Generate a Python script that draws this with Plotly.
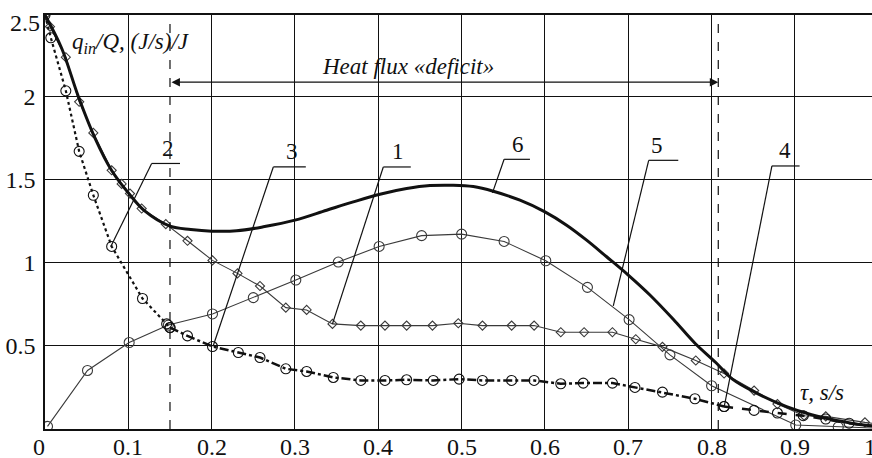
import plotly.graph_objects as go

# ---------------- data ----------------
c1_x = [0.0, 0.006, 0.025, 0.041, 0.058, 0.080, 0.092, 0.102, 0.116, 0.145, 0.171, 0.201, 0.231, 0.258,
        0.289, 0.314, 0.345, 0.379, 0.408, 0.434, 0.465, 0.496, 0.525, 0.560, 0.587, 0.619, 0.647, 0.681,
        0.709, 0.741, 0.781, 0.815, 0.851, 0.879, 0.911, 0.937, 0.984, 1.0]
c1_y = [2.49, 2.42, 2.236, 1.968, 1.781, 1.556, 1.474, 1.416, 1.326, 1.232, 1.132, 1.014, 0.936, 0.860,
        0.730, 0.716, 0.632, 0.622, 0.622, 0.622, 0.622, 0.636, 0.622, 0.622, 0.622, 0.582, 0.582, 0.582,
        0.540, 0.494, 0.412, 0.334, 0.231, 0.150, 0.080, 0.076, 0.040, 0.030]

c2_x = [0.0, 0.007, 0.025, 0.041, 0.058, 0.080, 0.117, 0.146, 0.150]
c2_y = [2.49, 2.353, 2.034, 1.670, 1.406, 1.098, 0.785, 0.632, 0.610]

c3_x = [0.150, 0.171, 0.201, 0.232, 0.258, 0.289, 0.314, 0.346, 0.379, 0.408, 0.434, 0.466, 0.497,
        0.525, 0.560, 0.587, 0.619, 0.646, 0.681, 0.708, 0.741, 0.780, 0.815]
c3_y = [0.610, 0.560, 0.496, 0.460, 0.430, 0.362, 0.346, 0.310, 0.292, 0.292, 0.296, 0.292, 0.300,
        0.292, 0.292, 0.292, 0.272, 0.276, 0.276, 0.250, 0.222, 0.182, 0.135]

c4_x = [0.815, 0.851, 0.879, 0.910, 0.937, 0.965, 1.0]
c4_y = [0.135, 0.112, 0.096, 0.080, 0.060, 0.035, 0.015]

c5_x = [0.003, 0.051, 0.101, 0.148, 0.201, 0.250, 0.301, 0.352, 0.401, 0.452, 0.500, 0.551, 0.601,
        0.651, 0.701, 0.750, 0.800, 0.901, 0.952, 1.0]
c5_y = [0.016, 0.352, 0.520, 0.625, 0.692, 0.790, 0.896, 1.004, 1.098, 1.163, 1.172, 1.128, 1.012,
        0.852, 0.658, 0.446, 0.260, 0.024, 0.012, 0.005]

c6_x = [0.0, 0.020, 0.040, 0.060, 0.080, 0.100, 0.120, 0.150, 0.175, 0.200, 0.230, 0.262, 0.300,
        0.338, 0.370, 0.402, 0.434, 0.462, 0.490, 0.514, 0.538, 0.570, 0.600, 0.626, 0.650, 0.674,
        0.700, 0.726, 0.754, 0.780, 0.805, 0.825, 0.854, 0.890, 0.920, 0.952, 0.980, 1.0]
c6_y = [2.49, 2.290, 2.000, 1.750, 1.555, 1.420, 1.310, 1.220, 1.200, 1.190, 1.192, 1.216, 1.256,
        1.316, 1.366, 1.412, 1.446, 1.464, 1.466, 1.458, 1.430, 1.376, 1.306, 1.226, 1.136, 1.036,
        0.926, 0.806, 0.660, 0.516, 0.400, 0.300, 0.216, 0.135, 0.086, 0.050, 0.025, 0.015]

x_ticks = [0.1, 0.2, 0.3, 0.4, 0.5, 0.6, 0.7, 0.8, 0.9]
x_tick_labels = ["0.1", "0.2", "0.3", "0.4", "0.5", "0.6", "0.7", "0.8", "0.9"]
y_ticks = [0.5, 1.0, 1.5, 2.0]
y_tick_labels = ["0.5", "1", "1.5", "2"]

deficit_start, deficit_end = 0.15, 0.808

curve_labels = ["2", "3", "1", "6", "5", "4"]
# ----------------------------------------------------------------

FONT = "Liberation Serif"
BLACK = "#111111"
THIN = "#3a3a3a"
X_MAX = 0.9925

fig = go.Figure()

fig.add_trace(go.Scatter(x=c5_x, y=c5_y, mode="lines+markers",
                         line=dict(color=THIN, width=1.1),
                         marker=dict(symbol="circle-open", size=10, color=THIN, line=dict(width=1.1))))
fig.add_trace(go.Scatter(x=c1_x, y=c1_y, mode="lines+markers",
                         line=dict(color=THIN, width=1.1),
                         marker=dict(symbol="diamond-open", size=7, color=THIN, line=dict(width=1.1))))
fig.add_trace(go.Scatter(x=c2_x, y=c2_y, mode="lines+markers",
                         line=dict(color=BLACK, width=2.2, dash="dot"),
                         marker=dict(symbol="circle-open", size=10, color=BLACK, line=dict(width=1.1))))
fig.add_trace(go.Scatter(x=c3_x, y=c3_y, mode="lines+markers",
                         line=dict(color=BLACK, width=2.5, dash="dashdot"),
                         marker=dict(symbol="circle-open", size=10, color=BLACK, line=dict(width=1.1))))
fig.add_trace(go.Scatter(x=c4_x, y=c4_y, mode="lines+markers",
                         line=dict(color=BLACK, width=2.5, dash="dash"),
                         marker=dict(symbol="circle-open", size=10, color=BLACK, line=dict(width=1.1))))
fig.add_trace(go.Scatter(x=c6_x, y=c6_y, mode="lines", line=dict(color=BLACK, width=3, shape="spline")))

shapes = []
for xv in (deficit_start, deficit_end):
    shapes.append(dict(type="line", xref="x", yref="y", x0=xv, x1=xv, y0=0, y1=2.45,
                       line=dict(color=BLACK, width=1.2, dash="dash")))

# leader lines for curve labels: (label x, label y, horiz x0, horiz x1, horiz y, target x, target y)
leaders = [
    (0.148, 1.600, 0.128, 0.162, 1.597, 0.079, 1.098),
    (0.297, 1.580, 0.274, 0.313, 1.576, 0.2016, 0.496),
    (0.424, 1.580, 0.406, 0.439, 1.576, 0.345, 0.632),
    (0.568, 1.625, 0.551, 0.582, 1.622, 0.537, 1.420),
    (0.734, 1.620, 0.7245, 0.760, 1.616, 0.682, 0.740),
    (0.888, 1.585, 0.8724, 0.9056, 1.582, 0.815, 0.132),
]
annotations = []
for lab, (lx, ly, hx0, hx1, hy, tx, ty) in zip(curve_labels, leaders):
    shapes.append(dict(type="line", xref="x", yref="y", x0=hx0, x1=hx1, y0=hy, y1=hy,
                       line=dict(color=BLACK, width=1.2)))
    shapes.append(dict(type="line", xref="x", yref="y", x0=hx0, x1=tx, y0=hy, y1=ty,
                       line=dict(color=BLACK, width=1.2)))
    annotations.append(dict(x=lx, y=ly, xref="x", yref="y", text=lab, showarrow=False,
                            xanchor="center", yanchor="bottom",
                            font=dict(family=FONT, size=23, color=BLACK)))

# double-headed arrow
annotations.append(dict(x=deficit_end, y=2.086, ax=deficit_start, ay=2.086, xref="x", yref="y",
                        axref="x", ayref="y", text="", showarrow=True, arrowhead=2, arrowside="end+start",
                        arrowwidth=1.3, arrowsize=1.3, arrowcolor=BLACK))
annotations.append(dict(x=0.436, y=2.18, xref="x", yref="y", text="<i>Heat flux «deficit»</i>",
                        showarrow=False, font=dict(family=FONT, size=23, color=BLACK)))
annotations.append(dict(x=0.030, y=2.322, xref="x", yref="y", xanchor="left",
                        text="<i>q<sub>in</sub>/Q, (J/s)/J</i>",
                        showarrow=False, font=dict(family=FONT, size=23, color=BLACK)))
annotations.append(dict(x=0.932, y=0.218, xref="x", yref="y", text="<i>τ, s/s</i>",
                        showarrow=False, font=dict(family=FONT, size=23, color=BLACK)))
annotations.append(dict(x=0, y=2.443, xref="x", yref="y", xanchor="right", xshift=-3, text="2.5",
                        showarrow=False, font=dict(family=FONT, size=24, color=BLACK)))
# x tick labels (the "1" sits at the clipped right edge of the frame)
for xv, txt in zip([0.0] + x_ticks + [X_MAX], ["0"] + x_tick_labels + ["1"]):
    shift = -6 if xv == 0.0 else (-2 if xv == X_MAX else 0)
    annotations.append(dict(x=xv, y=0, xref="x", yref="paper", yanchor="middle", yshift=-18,
                            xshift=shift, text=txt, showarrow=False,
                            font=dict(family=FONT, size=24, color=BLACK)))

fig.update_layout(
    width=872, height=458,
    margin=dict(l=45, r=0, t=15, b=29, pad=0),
    paper_bgcolor="white", plot_bgcolor="white",
    font=dict(family=FONT, color=BLACK),
    showlegend=False,
    shapes=shapes, annotations=annotations,
    xaxis=dict(range=[0, X_MAX], tickvals=x_ticks, showticklabels=False, ticks="",
               showgrid=True, gridcolor=BLACK, gridwidth=1.3, zeroline=False,
               showline=True, linecolor=BLACK, linewidth=1.5, mirror=True),
    yaxis=dict(range=[0, 2.49], tickvals=y_ticks, ticktext=y_tick_labels, ticks="",
               ticklabelstandoff=3,
               tickfont=dict(family=FONT, size=24, color=BLACK),
               showgrid=True, gridcolor=BLACK, gridwidth=1.3, zeroline=False,
               showline=True, linecolor=BLACK, linewidth=1.5, mirror=False),
)

fig.write_html("out.html", config={"displayModeBar": False},
               post_script="document.body.style.margin='0';document.body.style.overflow='hidden';")
